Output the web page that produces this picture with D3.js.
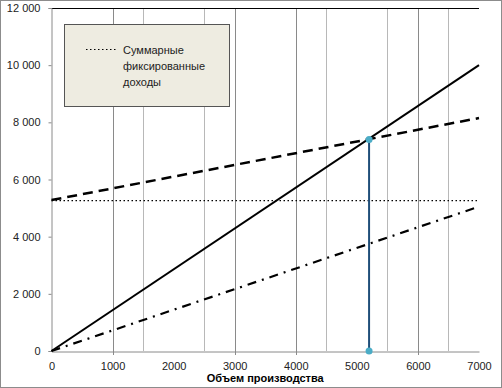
<!DOCTYPE html>
<html>
<head>
<meta charset="utf-8">
<script src="https://cdn.jsdelivr.net/npm/d3@7"></script>
<style>
  body { margin: 0; background: #fff; }
  svg text { font-family: "Liberation Sans", Arial, sans-serif; }
</style>
</head>
<body>
<svg id="chart"></svg>
<script>
// data
const xTicks = [0, 1000, 2000, 3000, 4000, 5000, 6000, 7000]
const yTicks = [0, 2000, 4000, 6000, 8000, 10000, 12000]
const darkGrid = [1000, 3000, 4000, 6000]
const lightGrid = [1500, 2500, 4500, 5500, 6500]

const revenue = [[0, 0], [7000, 10000]]
const totalCost = [[0, 5280], [7000, 8150]]
const fixedIncome = [[0, 5260], [7000, 5260]]
const variable = [[0, 0], [7000, 5050]]
const breakEven = [[5200, 0], [5200, 7400]]

const legendLines = ['Суммарные', 'фиксированные', 'доходы']

const width = 502, height = 388
const pad = {left: 51.5, right: 23, top: 8, bottom: 37}

let svg = d3.select('#chart').attr('width', width).attr('height', height)

// outer frame
svg.append('rect')
  .attr('x', 0.5).attr('y', 0.5)
  .attr('width', width - 1).attr('height', height - 1)
  .attr('fill', '#fff').attr('stroke', '#8c8c8c')

let xScale = d3.scaleLinear().domain([0, 7000]).range([pad.left, width - pad.right])
let yScale = d3.scaleLinear().domain([0, 12000]).range([height - pad.bottom, pad.top])

// gridlines
svg.append('g').selectAll('line').data(lightGrid).join('line')
  .attr('x1', d => Math.round(xScale(d)) + 0.5).attr('x2', d => Math.round(xScale(d)) + 0.5)
  .attr('y1', yScale(0)).attr('y2', yScale(12000))
  .attr('stroke', '#b8b8b8')
svg.append('g').selectAll('line').data(darkGrid).join('line')
  .attr('x1', d => Math.round(xScale(d)) + 0.5).attr('x2', d => Math.round(xScale(d)) + 0.5)
  .attr('y1', yScale(0) + 4).attr('y2', yScale(12000))
  .attr('stroke', '#8a8a8a')

// top border line
svg.append('line')
  .attr('x1', pad.left).attr('x2', width - pad.right)
  .attr('y1', yScale(12000) + 0.5).attr('y2', yScale(12000) + 0.5)
  .attr('stroke', '#000')

// axes
let xAxis = d3.axisBottom(xScale).tickValues(xTicks).tickSize(0).tickPadding(11)
  .tickFormat(d3.format('d'))
svg.append('g').attr('transform', 'translate(0,' + (yScale(0) + 0.5) + ')').call(xAxis)
  .call(g => g.select('.domain').attr('stroke', '#8a8a8a'))
  .selectAll('text').style('font-size', '11px').attr('fill', '#222')

let yAxis = d3.axisLeft(yScale).tickValues(yTicks).tickSize(3).tickPadding(8)
  .tickFormat(d => d3.format(',')(d).replace(',', ' '))
svg.append('g').attr('transform', 'translate(' + pad.left + ',0)').call(yAxis)
  .call(g => g.select('.domain').attr('stroke', '#8a8a8a'))
  .call(g => g.selectAll('.tick line').attr('stroke', '#8a8a8a'))
  .selectAll('text').style('font-size', '11px').attr('fill', '#222')

svg.append('text')
  .attr('x', (xScale(0) + xScale(7000)) / 2).attr('y', 382)
  .attr('text-anchor', 'middle')
  .style('font-size', '11px').style('font-weight', 'bold')
  .text('Объем производства')

// series
let line = d3.line().x(d => xScale(d[0])).y(d => yScale(d[1]))
svg.append('path').attr('d', line(fixedIncome))
  .attr('fill', 'none').attr('stroke', '#000').attr('stroke-width', 1.2).attr('stroke-dasharray', '1.5,2.5')
svg.append('path').attr('d', line(variable))
  .attr('fill', 'none').attr('stroke', '#000').attr('stroke-width', 2.2).attr('stroke-dasharray', '9,6,2,6')
svg.append('path').attr('d', line(totalCost))
  .attr('fill', 'none').attr('stroke', '#000').attr('stroke-width', 2.5).attr('stroke-dasharray', '10,6')
svg.append('path').attr('d', line(revenue))
  .attr('fill', 'none').attr('stroke', '#000').attr('stroke-width', 2)

// break-even marker
svg.append('path').attr('d', line(breakEven))
  .attr('fill', 'none').attr('stroke', '#1f4e79').attr('stroke-width', 2)
svg.append('g').selectAll('circle').data(breakEven).join('circle')
  .attr('cx', d => xScale(d[0])).attr('cy', d => yScale(d[1]))
  .attr('r', 3.5).attr('fill', '#4bacc6')

// legend
let legend = svg.append('g')
legend.append('rect')
  .attr('x', 64.5).attr('y', 24.5).attr('width', 165).attr('height', 82)
  .attr('fill', '#eeece1').attr('stroke', '#555')
legend.append('line')
  .attr('x1', 86).attr('x2', 117).attr('y1', 49.5).attr('y2', 49.5)
  .attr('stroke', '#000').attr('stroke-width', 1.2).attr('stroke-dasharray', '1.5,2.5')
legend.selectAll('text.lg').data(legendLines).join('text')
  .attr('class', 'lg')
  .attr('x', 123).attr('y', (d, i) => 54 + i * 16)
  .style('font-size', '11px').attr('fill', '#222')
  .text(d => d)
</script>
</body>
</html>
